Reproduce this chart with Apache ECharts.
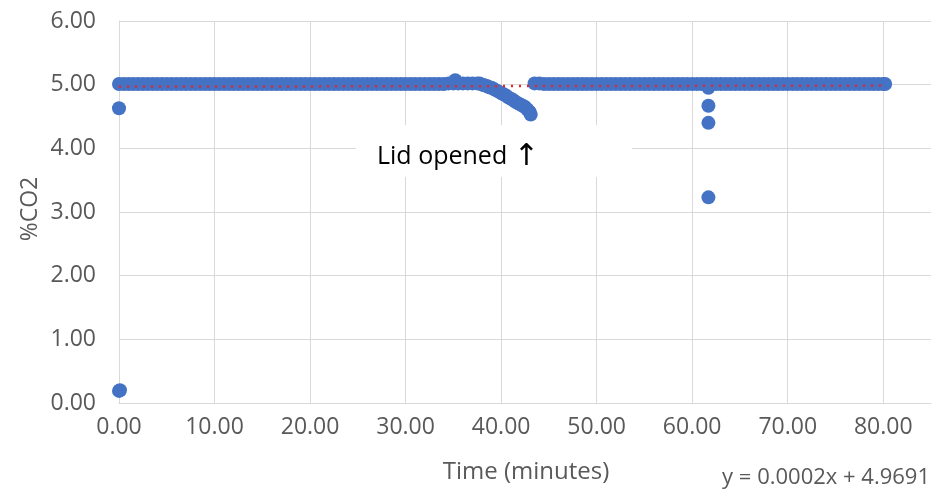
<!DOCTYPE html>
<html>
<head>
<meta charset="utf-8">
<script src="https://cdn.jsdelivr.net/npm/echarts@6/dist/echarts.min.js"></script>
<style>
html,body{margin:0;padding:0;background:#fff;}
#chart{width:934px;height:492px;}
</style>
</head>
<body>
<div id="chart"></div>
<script>
// Steady readings before the lid was opened (minutes, %CO2)
var timeA = [0,0.5,1,1.5,2,2.5,3,3.5,4,4.5,5,5.5,6,6.5,7,7.5,8,8.5,9,9.5,10,10.5,11,11.5,12,12.5,13,13.5,14,14.5,15,15.5,16,16.5,17,17.5,18,18.5,19,19.5,20,20.5,21,21.5,22,22.5,23,23.5,24,24.5,25,25.5,26,26.5,27,27.5,28,28.5,29,29.5,30,30.5,31,31.5,32,32.5,33,33.5,34,34.5,35,35.2,35.5,36,36.5,37,37.5];
var co2A  = [5.01,5.01,5.01,5.01,5.01,5.01,5.01,5.01,5.01,5.01,5.01,5.01,5.01,5.01,5.01,5.01,5.01,5.01,5.01,5.01,5.01,5.01,5.01,5.01,5.01,5.01,5.01,5.01,5.01,5.01,5.01,5.01,5.01,5.01,5.01,5.01,5.01,5.01,5.01,5.01,5.01,5.01,5.01,5.01,5.01,5.01,5.01,5.01,5.01,5.01,5.01,5.01,5.01,5.01,5.01,5.01,5.01,5.01,5.01,5.01,5.01,5.01,5.01,5.01,5.01,5.01,5.01,5.01,5.01,5.02,5.02,5.07,5.02,5.02,5.02,5.02,5.02];
// Decline after the lid was opened
var timeDrop = [37.75,38,38.25,38.5,38.75,39,39.25,39.5,39.75,40,40.25,40.5,40.75,41,41.25,41.5,41.75,42,42.25,42.5,42.75,43,43.1];
var co2Drop  = [5.02,5.00,4.99,4.98,4.96,4.95,4.93,4.91,4.89,4.87,4.85,4.83,4.80,4.78,4.76,4.73,4.71,4.69,4.67,4.65,4.61,4.57,4.53];
// Steady readings after recovery
var timeB = [43.5,44,44.5,45,45.5,46,46.5,47,47.5,48,48.5,49,49.5,50,50.5,51,51.5,52,52.5,53,53.5,54,54.5,55,55.5,56,56.5,57,57.5,58,58.5,59,59.5,60,60.5,61,61.5,62,62.5,63,63.5,64,64.5,65,65.5,66,66.5,67,67.5,68,68.5,69,69.5,70,70.5,71,71.5,72,72.5,73,73.5,74,74.5,75,75.5,76,76.5,77,77.5,78,78.5,79,79.5,80,80.2];
var co2B  = [5.02,5.02,5.01,5.01,5.01,5.01,5.01,5.01,5.01,5.01,5.01,5.01,5.01,5.01,5.01,5.01,5.01,5.01,5.01,5.01,5.01,5.01,5.01,5.01,5.01,5.01,5.01,5.01,5.01,5.01,5.01,5.01,5.01,5.01,5.01,5.01,5.01,5.01,5.01,5.01,5.01,5.01,5.01,5.01,5.01,5.01,5.01,5.01,5.01,5.01,5.01,5.01,5.01,5.01,5.01,5.01,5.01,5.01,5.01,5.01,5.01,5.01,5.01,5.01,5.01,5.01,5.01,5.01,5.01,5.01,5.01,5.01,5.01,5.01,5.01];
// Isolated readings
var timeOut = [0,0.1,0,61.7,61.7,61.7,61.7];
var co2Out  = [0.19,0.20,4.63,4.95,4.67,4.40,3.23];
// Linear trendline y = 0.0002x + 4.9691 (end points)
var trendX = [0,80.2];
var trendY = [4.9691,4.9851];
var xTicks = [0,10,20,30,40,50,60,70,80];
var yTicks = [0,1,2,3,4,5,6];

function pairs(xs, ys){ return xs.map(function(x,i){ return [x, ys[i]]; }); }
var allPts = pairs(timeA,co2A).concat(pairs(timeDrop,co2Drop), pairs(timeB,co2B), pairs(timeOut,co2Out));

var font = 'Open Sans';
var grey = '#595959';
var chart = echarts.init(document.getElementById('chart'));
chart.setOption({
  animation:false,
  backgroundColor:'#ffffff',
  grid:{left:119, top:21, bottom:89, right:3},
  xAxis:{
    type:'value', min:0, max:85, interval:10,
    axisLine:{show:true, lineStyle:{color:'#d9d9d9', width:1}},
    axisTick:{show:false},
    splitLine:{show:true, showMaxLine:false, lineStyle:{color:'#d9d9d9', width:1}},
    axisLabel:{color:grey, fontFamily:font, fontSize:23, margin:13, showMaxLabel:false,
      formatter:function(v){ return xTicks.indexOf(v) >= 0 ? v.toFixed(2) : ''; }}
  },
  yAxis:{
    type:'value', min:0, max:6, interval:1,
    axisLine:{show:true, lineStyle:{color:'#d9d9d9', width:1}},
    axisTick:{show:false},
    splitLine:{show:true, lineStyle:{color:'#d9d9d9', width:1}},
    axisLabel:{color:grey, fontFamily:font, fontSize:23, margin:23,
      formatter:function(v){ return yTicks.indexOf(v) >= 0 ? v.toFixed(2) : ''; }}
  },
  series:[
    {type:'scatter', data:allPts, symbol:'circle', symbolSize:14,
      itemStyle:{color:'#4472C4', opacity:1}, z:2},
    {type:'line', data:pairs(trendX,trendY), symbol:'none', z:3,
      lineStyle:{color:'#e8262a', width:2.5, type:[2,6]}}
  ],
  graphic:[
    {type:'rect', shape:{x:356, y:125, width:276, height:52}, style:{fill:'#ffffff'}, z:10},
    {type:'text', x:377, y:157, z:11, style:{
      text:'{t|Lid opened }{a|\u2191}', align:'left', verticalAlign:'middle',
      rich:{
        t:{fontFamily:font, fontSize:25, fill:'#000000'},
        a:{fontFamily:'DejaVu Sans', fontSize:30, fill:'#000000'}
      }}},
    {type:'text', x:526, y:472, z:11, style:{text:'Time (minutes)', fontFamily:font, fontSize:24, fill:grey, align:'center', verticalAlign:'middle'}},
    {type:'text', x:30, y:209, rotation:Math.PI/2, z:11, style:{text:'%CO2', fontFamily:font, fontSize:23, fill:grey, align:'center', verticalAlign:'middle'}},
    {type:'text', x:930, y:478, z:11, style:{text:'y = 0.0002x + 4.9691', fontFamily:font, fontSize:22, fill:grey, align:'right', verticalAlign:'middle'}}
  ]
});
</script>
</body>
</html>
